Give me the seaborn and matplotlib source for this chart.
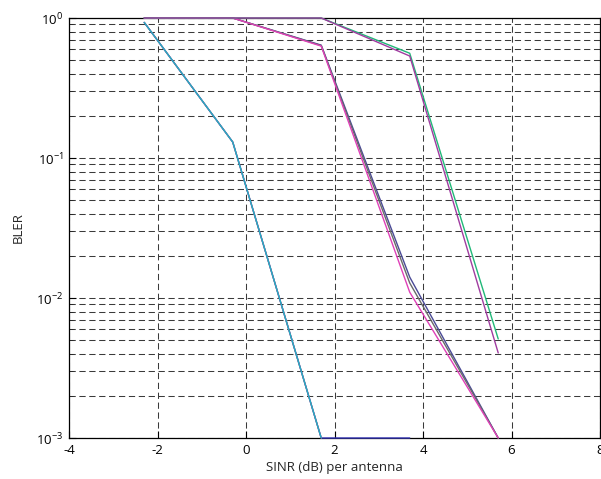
import matplotlib
matplotlib.use("Agg")
import matplotlib.pyplot as plt
import seaborn as sns
import pandas as pd
import numpy as np
from matplotlib.ticker import LogLocator, NullFormatter

sns.set_style("ticks")
plt.rcParams['font.family'] = ['Open Sans', 'DejaVu Sans']
plt.rcParams['mathtext.default'] = 'regular'
plt.rcParams['axes.unicode_minus'] = False

snr = [-2.3, -0.3, 1.7, 3.7, 5.7]

# group 1 (lowest SINR)
bler_blue = [0.93, 0.13, 1e-3, 1e-3]
bler_red = [0.93, 0.13, 1e-3]
bler_cyan = [0.93, 0.13, 1e-3]
# group 2
bler_navy = [1.0, 1.0, 0.64, 0.0141, 1e-3]
bler_grey = [1.0, 1.0, 0.635, 0.0128, 1e-3]
bler_magenta = [1.0, 1.0, 0.63, 0.0110, 1e-3]
# group 3
bler_green = [1.0, 1.0, 1.0, 0.56, 0.0051]
bler_purple = [1.0, 1.0, 1.0, 0.535, 0.00405]

series = [
    ("blue", bler_blue, "#3636b8"),
    ("red", bler_red, "#d0406a"),
    ("cyan", bler_cyan, "#1fb0c8"),
    ("navy", bler_navy, "#4a4a96"),
    ("grey", bler_grey, "#6a6a6a"),
    ("magenta", bler_magenta, "#e040b8"),
    ("green", bler_green, "#20b878"),
    ("purple", bler_purple, "#a03ca0"),
]

rows = []
for name, vals, _ in series:
    for x, v in zip(snr, vals):
        rows.append({"snr": x, "bler": v, "curve": name})
df = pd.DataFrame(rows)
palette = {name: c for name, _, c in series}
order = [name for name, _, _ in series]

fig = plt.figure(figsize=(6.01, 4.79), dpi=100)
ax = fig.add_axes([69/601, 41/479, 531/601, 420/479])

sns.lineplot(data=df, x="snr", y="bler", hue="curve", hue_order=order,
             palette=palette, ax=ax, legend=False, linewidth=1.0,
             estimator=None, sort=False)
for ln in ax.get_lines():
    ln.set_zorder(3)
    ln.set_clip_on(False)

ax.set_yscale("log")
ax.set_xlim(-4, 8)
ax.set_ylim(1e-3, 1)
ax.set_xticks([-4, -2, 0, 2, 4, 6, 8])
ax.yaxis.set_major_locator(LogLocator(base=10, numticks=10))
ax.yaxis.set_minor_locator(LogLocator(base=10, subs=np.arange(2, 10), numticks=20))
ax.yaxis.set_minor_formatter(NullFormatter())

gridkw = dict(color="#3a3a3a", linestyle=(0, (6, 3.5)), linewidth=0.75)
ax.grid(True, which="major", axis="both", **gridkw)
ax.grid(True, which="minor", axis="y", **gridkw)
ax.set_axisbelow(True)

for s in ax.spines.values():
    s.set_visible(True)
    s.set_color("black")
    s.set_linewidth(0.9)
    s.set_zorder(2.5)

ax.tick_params(axis="both", which="major", direction="in", length=5,
               labelsize=9.5, width=0.8, colors="black", pad=4)
ax.tick_params(axis="y", which="minor", direction="in", length=3, width=0.6)
ax.tick_params(top=False, right=False, which="both")

ax.set_xlabel("SINR (dB) per antenna", fontsize=9.5, labelpad=3)
ax.set_ylabel("BLER", fontsize=9.5, labelpad=8)

fig.savefig("out.png", dpi=100)
